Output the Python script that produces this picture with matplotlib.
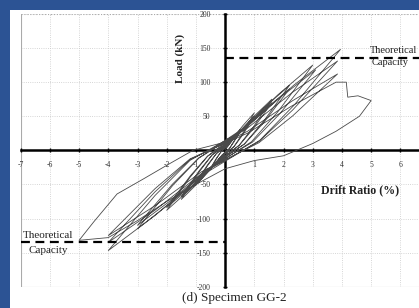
import matplotlib
matplotlib.use('Agg')
import matplotlib.pyplot as plt

# hysteresis path, one row per cycle
drift = [0, 0.25, 0.5,
         0.3, 0.15, -0.1, -0.3, -0.5, -0.3, -0.15, 0.1, 0.3, 0.5,
         0.3, 0.15, -0.1, -0.3, -0.5, -0.3, -0.15, 0.2, 0.6, 1.0,
         0.6, 0.3, -0.2, -0.6, -1.0, -0.6, -0.3, 0.2, 0.6, 1.0,
         0.6, 0.3, -0.2, -0.6, -1.0, -0.6, -0.3, 0.32, 0.96, 1.6,
         0.96, 0.48, -0.3, -0.9, -1.5, -0.9, -0.45, 0.32, 0.96, 1.6,
         0.96, 0.48, -0.3, -0.9, -1.5, -0.9, -0.45, 0.44, 1.32, 2.2,
         1.32, 0.66, -0.4, -1.2, -2.0, -1.2, -0.6, 0.44, 1.32, 2.2,
         1.32, 0.66, -0.4, -1.2, -2.0, -1.2, -0.6, 0.6, 1.8, 3.0,
         1.8, 0.9, -0.6, -1.8, -3.0, -1.8, -0.9, 0.62, 1.86, 3.1,
         1.86, 0.93, -0.6, -1.8, -3.0, -1.8, -0.9, 0.79, 2.37, 3.95,
         2.37, 1.19, -0.8, -2.4, -4.0, -2.4, -1.2, 0.77, 2.31, 3.85,
         2.31, 1.16, -0.8, -2.4, -4.0, -2.4, -1.2, 0.77, 2.31, 3.85,
         2.31, 1.16, -0.8, -2.4, -4.0, -2.4, -1.2, 0.76, 2.28, 3.8,
         4.15, 4.2, 4.55, 5.0, 4.6, 3.8, 3.0, 2.0, 1.0, 0.0, -1.0,
         -2.0, -3.0, -4.0, -5.0, -4.5, -3.7, -2.8, -2.0, -1.1, 0.0]
load = [0, 15, 30,
        13.5, 3, -7, -18, -28, -12.6, -2.8, 6.8, 17.6, 27,
        12, 2.7, -6.5, -17, -26, -11.7, -2.6, 13.8, 35.8, 55,
        24.8, 5.5, -12.5, -32.5, -50, -22.5, -5, 12.5, 32.5, 50,
        22.5, 5, -11.8, -30.6, -47, -21.2, -4.7, 18.8, 48.8, 75,
        33.8, 7.5, -18, -46.8, -72, -32.4, -7.2, 17.5, 45.5, 70,
        31.5, 7, -17, -44.2, -68, -30.6, -6.8, 23.8, 61.8, 95,
        42.8, 9.5, -22, -57.2, -88, -39.6, -8.8, 22.5, 58.5, 90,
        40.5, 9, -21, -54.6, -84, -37.8, -8.4, 31.2, 81.2, 125,
        56.2, 12.5, -28.8, -74.8, -115, -51.8, -11.5, 29.5, 76.7, 118,
        53.1, 11.8, -27.5, -71.5, -110, -49.5, -11, 37, 96.2, 148,
        66.6, 14.8, -36.8, -95.6, -147, -66.2, -14.7, 32.8, 85.2, 131,
        59, 13.1, -33.8, -87.8, -135, -60.8, -13.5, 28, 72.8, 112,
        50.4, 11.2, -31.2, -81.2, -125, -56.2, -12.5, 25, 65, 100,
        100, 78, 80, 73, 50, 28, 10, -8, -15, -27, -50,
        -75, -103, -128, -132, -105, -64, -42, -22, 0, 12]

capacity = 135  # kN, theoretical capacity
x_ticks = [-7, -6, -5, -4, -3, -2, -1, 1, 2, 3, 4, 5, 6]
y_ticks = [-200, -150, -100, -50, 50, 100, 150, 200]

plt.rcParams['font.family'] = ['Liberation Serif', 'DejaVu Serif']

fig = plt.figure(figsize=(4.19, 3.08), dpi=100)
fig.patch.set_facecolor('#2c5394')
fig.patches.append(plt.Rectangle((10 / 419, 0), 1, 298 / 308, transform=fig.transFigure,
                                 facecolor='white', edgecolor='none', zorder=-1))

ax = fig.add_axes([0.0494, 0.0692, 0.9757, 0.8854])
ax.set_zorder(2)
ax.set_facecolor('white')
ax.set_xlim(-7, 7)
ax.set_ylim(-200, 200)

# grid
for x in x_ticks:
    ax.axvline(x, color='#c8c8c8', lw=0.6, ls=':', zorder=1)
for y in y_ticks:
    ax.axhline(y, color='#c8c8c8', lw=0.6, ls=':', zorder=1)
ax.axvline(-7, color='#aaaaaa', lw=0.8, zorder=1)
ax.axhline(-200, color='#aaaaaa', lw=0.8, zorder=1)
ax.axhline(200, color='#aaaaaa', lw=0.8, ls=':', zorder=1)

# axes through the origin
for side in ['top', 'right']:
    ax.spines[side].set_visible(False)
ax.spines['left'].set_position('zero')
ax.spines['bottom'].set_position('zero')
ax.spines['left'].set_linewidth(1.8)
ax.spines['bottom'].set_linewidth(1.8)
ax.set_xticks(x_ticks)
ax.set_yticks(y_ticks)
ax.set_xticklabels([str(t) for t in x_ticks])
ax.set_yticklabels([str(t) for t in y_ticks])
ax.tick_params(axis='both', direction='inout', length=3, width=1, labelsize=5.5, colors='black',
               labelcolor='#333333')
ax.tick_params(axis='y', pad=9)
ax.tick_params(axis='x', pad=6)

ax.plot(drift, load, color='#4a4a4a', lw=0.6, zorder=3)

# theoretical capacity lines
ax.plot([0, 7], [capacity, capacity], color='black', lw=1.6, ls=(0, (4, 2.5)), zorder=4)
ax.plot([-7, 0], [-capacity, -capacity], color='black', lw=1.6, ls=(0, (4, 2.5)), zorder=4)
ax.text(5.75, 147, 'Theoretical', fontsize=7.5, ha='center', va='center', color='#222222', zorder=5)
ax.text(5.65, 129, 'Capacity', fontsize=7.5, ha='center', va='center', color='#222222', zorder=5)
ax.text(-6.08, -125, 'Theoretical', fontsize=8, ha='center', va='center', color='#222222', zorder=5)
ax.text(-6.05, -147, 'Capacity', fontsize=8, ha='center', va='center', color='#222222', zorder=5)

ax.text(-1.54, 135, 'Load (kN)', rotation=90, fontsize=8, fontweight='bold',
        ha='center', va='center', color='#222222')
ax.text(4.62, -59, 'Drift Ratio (%)', fontsize=8.5, fontweight='bold',
        ha='center', va='center', color='#222222')

fig.text(234.5 / 419, 0.031, '(d) Specimen GG-2', fontsize=9.5, ha='center', va='center', color='#222222')

plt.savefig('out.png', dpi=100, facecolor=fig.get_facecolor())
